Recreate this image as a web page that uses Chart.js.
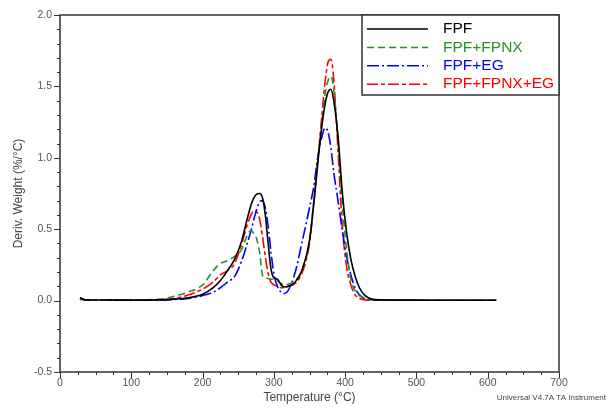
<!DOCTYPE html>
<html>
<head>
<meta charset="utf-8">
<script src="https://cdn.jsdelivr.net/npm/chart.js@4.4.1/dist/chart.umd.min.js"></script>
<style>
  html, body { margin: 0; padding: 0; background: #fff; }
  canvas { display: block; }
</style>
</head>
<body>
<canvas id="dtgChart" width="609" height="408"></canvas>
<script>
/* ══════════════════════════════════════
   DATA
══════════════════════════════════════ */
const temps = [28, 35, 60, 100, 140, 160, 180, 200, 215, 225, 235, 245, 255, 262, 268, 272, 276, 280, 284, 288, 292, 296, 300, 305, 310, 315, 320, 330, 340, 350, 356, 362, 368, 372, 376, 380, 384, 390, 396, 402, 408, 414, 420, 428, 436, 450, 500, 550, 612];

const fpf = [0.02, 0.006, 0.004, 0.003, 0.005, 0.01, 0.02, 0.045, 0.09, 0.14, 0.21, 0.29, 0.42, 0.56, 0.67, 0.72, 0.745, 0.75, 0.72, 0.60, 0.40, 0.22, 0.16, 0.15, 0.11, 0.095, 0.10, 0.13, 0.22, 0.42, 0.68, 0.98, 1.25, 1.38, 1.46, 1.48, 1.40, 1.15, 0.76, 0.48, 0.29, 0.17, 0.09, 0.035, 0.012, 0.005, 0.003, 0.002, 0.002];

const fpfFpnx = [0.015, 0.005, 0.004, 0.005, 0.01, 0.03, 0.06, 0.11, 0.21, 0.26, 0.28, 0.31, 0.36, 0.45, 0.49, 0.47, 0.43, 0.34, 0.18, 0.16, 0.155, 0.15, 0.15, 0.14, 0.12, 0.11, 0.115, 0.14, 0.22, 0.42, 0.70, 1.00, 1.28, 1.45, 1.54, 1.57, 1.48, 1.12, 0.68, 0.36, 0.15, 0.07, 0.035, 0.015, 0.006, 0.003, 0.002, 0.002, 0.002];

const fpfEg = [0.01, 0.004, 0.003, 0.003, 0.003, 0.008, 0.015, 0.035, 0.06, 0.09, 0.13, 0.17, 0.28, 0.39, 0.49, 0.57, 0.64, 0.69, 0.70, 0.65, 0.52, 0.34, 0.19, 0.10, 0.06, 0.05, 0.07, 0.20, 0.42, 0.65, 0.80, 1.02, 1.16, 1.21, 1.18, 1.07, 0.90, 0.70, 0.49, 0.31, 0.18, 0.09, 0.04, 0.012, 0.005, 0.003, 0.002, 0.002, 0.002];

const fpfFpnxEg = [0.02, 0.006, 0.003, 0.003, 0.006, 0.015, 0.04, 0.08, 0.13, 0.18, 0.21, 0.26, 0.40, 0.52, 0.60, 0.63, 0.62, 0.57, 0.45, 0.31, 0.19, 0.13, 0.11, 0.10, 0.09, 0.09, 0.10, 0.12, 0.20, 0.40, 0.68, 1.00, 1.33, 1.54, 1.67, 1.69, 1.55, 1.05, 0.52, 0.24, 0.11, 0.04, 0.015, 0.005, 0.003, 0.002, 0.002, 0.002, 0.002];

const seriesLabels = ["FPF", "FPF+FPNX", "FPF+EG", "FPF+FPNX+EG"];

/* ══════════════════════════════════════
   HELPERS
══════════════════════════════════════ */
function toPoints(values) {
  return temps.map((t, i) => ({ x: t, y: values[i] }));
}

function isMultiple(v, step) {
  const r = v / step;
  return Math.abs(r - Math.round(r)) < 1e-6;
}

/* ══════════════════════════════════════
   FRAME, MINOR TICKS, LEGEND, FOOTER
══════════════════════════════════════ */
const framePlugin = {
  id: "frame",
  afterDraw(chart) {
    const { ctx, chartArea: a, scales } = chart;
    ctx.save();

    // ticks, pointing outward
    ctx.strokeStyle = "#333";
    ctx.lineWidth = 1;
    ctx.beginPath();
    for (let v = -0.5; v <= 2.0001; v += 0.1) {
      const y = Math.round(scales.y.getPixelForValue(v)) + 0.5;
      const len = isMultiple(v, 0.5) ? 6 : 3;
      ctx.moveTo(a.left - len, y);
      ctx.lineTo(a.left, y);
    }
    for (let v = 0; v <= 700; v += 25) {
      const x = Math.round(scales.x.getPixelForValue(v)) + 0.5;
      const len = isMultiple(v, 100) ? 6 : 3;
      ctx.moveTo(x, a.bottom);
      ctx.lineTo(x, a.bottom + len);
    }
    ctx.stroke();

    // plot frame
    ctx.strokeStyle = "#333";
    ctx.lineWidth = 1.5;
    ctx.strokeRect(a.left, a.top, a.right - a.left, a.bottom - a.top);

    // legend box
    const bx = 362, by = a.top, bw = a.right - 362, bh = 80;
    ctx.fillStyle = "#fff";
    ctx.fillRect(bx, by, bw, bh);
    ctx.strokeRect(bx, by, bw, bh);

    ctx.font = "15.5px 'Liberation Sans', Arial, sans-serif";
    ctx.textBaseline = "middle";
    chart.data.datasets.forEach((ds, i) => {
      const y = by + 14 + i * 18.4;
      ctx.strokeStyle = ds.borderColor;
      ctx.lineWidth = 1.5;
      ctx.setLineDash(ds.borderDash || []);
      ctx.beginPath();
      ctx.moveTo(bx + 5, y);
      ctx.lineTo(bx + 66, y);
      ctx.stroke();
      ctx.setLineDash([]);
      ctx.fillStyle = ds.borderColor;
      ctx.fillText(ds.label, bx + 81, y);
    });

    // footer
    ctx.font = "8px 'Liberation Sans', Arial, sans-serif";
    ctx.fillStyle = "#444";
    ctx.textAlign = "right";
    ctx.fillText("Universal V4.7A TA Instrument", 606, 398);

    ctx.restore();
  },
};

/* ══════════════════════════════════════
   CHART
══════════════════════════════════════ */
const tickFont = { family: "'Liberation Sans', Arial, sans-serif", size: 10.5 };
const titleFont = { family: "'Liberation Sans', Arial, sans-serif", size: 12 };

new Chart(document.getElementById("dtgChart"), {
  type: "line",

  data: {
    datasets: [
      {
        label: seriesLabels[0],
        data: toPoints(fpf),
        borderColor: "#000000",
        borderWidth: 1.6,
      },
      {
        label: seriesLabels[1],
        data: toPoints(fpfFpnx),
        borderColor: "#2a8f2a",
        borderWidth: 1.6,
        borderDash: [7, 4],
      },
      {
        label: seriesLabels[2],
        data: toPoints(fpfEg),
        borderColor: "#0000ff",
        borderWidth: 1.6,
        borderDash: [12, 3, 2, 3],
      },
      {
        label: seriesLabels[3],
        data: toPoints(fpfFpnxEg),
        borderColor: "#ff0000",
        borderWidth: 1.6,
        borderDash: [11, 3, 4, 3],
      },
    ],
  },

  options: {
    responsive: false,
    animation: false,
    devicePixelRatio: 1,

    elements: {
      point: { radius: 0 },
      line: { cubicInterpolationMode: "monotone", fill: false },
    },

    layout: {
      padding: { top: 15, right: 50, left: 0, bottom: 0 },
    },

    plugins: {
      legend: { display: false },
      tooltip: { enabled: false },
    },

    scales: {
      x: {
        type: "linear",
        min: 0,
        max: 700,
        afterFit: (s) => { s.height = 36; },
        border: { display: false },
        grid: { display: false, drawTicks: false },
        ticks: {
          stepSize: 25,
          padding: 5,
          color: "#555",
          font: tickFont,
          maxRotation: 0,
          autoSkip: false,
          callback: (v) => (isMultiple(v, 100) ? String(v) : ""),
        },
        title: {
          display: true,
          text: "Temperature (°C)",
          color: "#444",
          font: titleFont,
          padding: { top: 0, bottom: 3 },
        },
      },

      y: {
        min: -0.5,
        max: 2.0,
        afterFit: (s) => { s.width = 60; },
        border: { display: false },
        grid: { display: false, drawTicks: false },
        ticks: {
          stepSize: 0.1,
          padding: 8,
          color: "#555",
          font: tickFont,
          autoSkip: false,
          callback: (v) => (isMultiple(v, 0.5) ? v.toFixed(1) : ""),
        },
        title: {
          display: true,
          text: "Deriv. Weight (%/°C)",
          color: "#444",
          font: titleFont,
          padding: { top: 11, bottom: 0 },
        },
      },
    },
  },

  plugins: [framePlugin],
});
</script>
</body>
</html>
